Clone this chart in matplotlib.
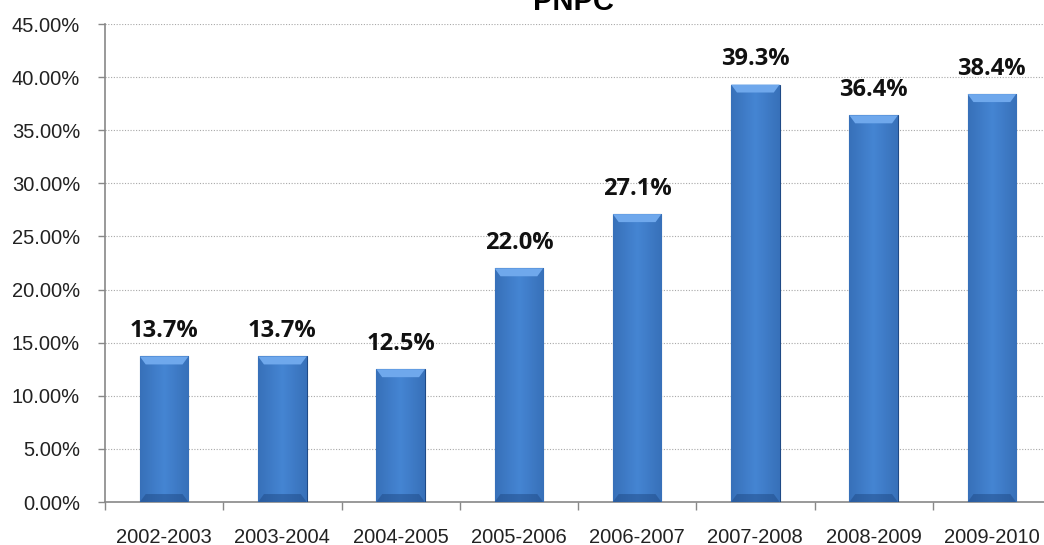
import numpy as np
import matplotlib
matplotlib.use("Agg")
import matplotlib.pyplot as plt
from matplotlib.patches import Polygon
from matplotlib.ticker import FuncFormatter

# data
years = ["2002-2003", "2003-2004", "2004-2005", "2005-2006",
         "2006-2007", "2007-2008", "2008-2009", "2009-2010"]
values = [13.7, 13.7, 12.5, 22.0, 27.1, 39.3, 36.4, 38.4]
title = "PNPC"

fig = plt.figure(figsize=(10.44, 5.45), dpi=100)
# axes slightly wider than the figure, as in the original screenshot
ax = fig.add_axes([105 / 1044, 1 - 502 / 545, 946 / 1044, 478 / 545])

x = np.arange(len(years))
w = 0.41
bars = ax.bar(x, values, width=w, color="#3c78c8", edgecolor="#1f4a86",
              linewidth=0.8, zorder=3)

# horizontal shading inside each bar
grad = np.linspace(0, 1, 64)
shade = 1 - 0.5 * np.abs(grad - 0.5) * 2
cmap = matplotlib.colors.LinearSegmentedColormap.from_list(
    "bar", ["#2a5c9f", "#4585d3"])
for b in bars:
    x0, y0, bw, bh = b.get_x(), b.get_y(), b.get_width(), b.get_height()
    im = ax.imshow(shade[None, :], cmap=cmap, aspect="auto",
                   extent=[x0, x0 + bw, y0, y0 + bh], zorder=3.5,
                   vmin=0, vmax=1)
    im.set_clip_path(b)
    # bevelled top
    cap = 0.75
    inset = bw * 0.12
    top = Polygon([[x0, y0 + bh], [x0 + bw, y0 + bh],
                   [x0 + bw - inset, y0 + bh - cap], [x0 + inset, y0 + bh - cap]],
                  closed=True, facecolor="#6fa8ec", edgecolor="none", zorder=4)
    ax.add_patch(top)
    # darker base
    bot = Polygon([[x0, y0], [x0 + bw, y0],
                   [x0 + bw - inset, y0 + cap], [x0 + inset, y0 + cap]],
                  closed=True, facecolor="#1f4a86", edgecolor="none", zorder=4, alpha=0.5)
    ax.add_patch(bot)
    ax.add_patch(Polygon(b.get_verts(), closed=True, fill=False,
                         edgecolor="#1f4a86", linewidth=0.8, zorder=4.5))

for xi, v in zip(x, values):
    ax.annotate(f"{v:.1f}%", (xi, v), xytext=(0, 14), textcoords="offset points",
                ha="center", va="baseline", fontsize=17, fontweight="bold",
                family="Open Sans", color="#111111", zorder=5)

ax.set_xlim(-0.5, len(years) - 0.5)
ax.set_ylim(0, 45)
ax.set_yticks(np.arange(0, 46, 5))
ax.yaxis.set_major_formatter(FuncFormatter(lambda v, p: f"{v:.2f}%"))
ax.yaxis.grid(True, linestyle=(0, (1, 1.5)), color="#a8a8a8", linewidth=0.8, zorder=0)

ax.set_xticks(x)
ax.set_xticklabels(years)
ax.set_xticks(np.arange(len(years) + 1) - 0.5, minor=True)
ax.tick_params(axis="x", which="major", length=0, pad=19)
ax.tick_params(axis="x", which="minor", length=6, color="#888888", width=1)
ax.tick_params(axis="y", length=5, color="#888888", width=1, pad=13)
for lab in ax.get_xticklabels() + ax.get_yticklabels():
    lab.set_family("Liberation Sans")
    lab.set_fontsize(14.5)
    lab.set_color("#222222")

for s in ["top", "right"]:
    ax.spines[s].set_visible(False)
for s in ["left", "bottom"]:
    ax.spines[s].set_color("#888888")
    ax.spines[s].set_linewidth(1.2)

fig.text(573 / 1044, 1 - 10 / 545, title, ha="center", va="baseline",
         fontsize=21, fontweight="bold", family="Liberation Sans")

fig.savefig("out.png", dpi=100)
